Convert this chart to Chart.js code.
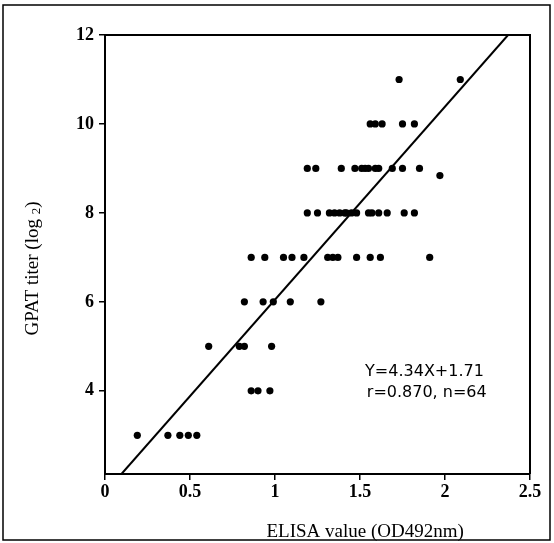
<!DOCTYPE html>
<html><head><meta charset="utf-8">
<script src="https://cdn.jsdelivr.net/npm/chart.js@4"></script>
<style>html,body{margin:0;padding:0;background:#fff}#wrap{width:554px;height:543px}</style>
</head><body><div id="wrap"><canvas id="c" width="554" height="543"></canvas></div>
<script>
// ELISA value (x) and GPAT titer log2 (y) for each sample
const elisa = [
  1.73, 2.09,
  1.56, 1.59, 1.63, 1.75, 1.82,
  1.19, 1.24, 1.39, 1.47, 1.51, 1.53, 1.55, 1.59, 1.61, 1.69, 1.75, 1.85, 1.97,
  1.19, 1.25, 1.32, 1.35, 1.38, 1.41, 1.42, 1.45, 1.48, 1.55, 1.57, 1.61, 1.66, 1.76, 1.82,
  0.86, 0.94, 1.05, 1.10, 1.17, 1.31, 1.34, 1.37, 1.48, 1.56, 1.62, 1.91,
  0.82, 0.93, 0.99, 1.09, 1.27,
  0.61, 0.79, 0.82, 0.98,
  0.86, 0.90, 0.97,
  0.19, 0.37, 0.44, 0.49, 0.54
];
const gpat = [
  11, 11,
  10, 10, 10, 10, 10,
  9, 9, 9, 9, 9, 9, 9, 9, 9, 9, 9, 9, 8.84,
  8, 8, 8, 8, 8, 8, 8, 8, 8, 8, 8, 8, 8, 8, 8,
  7, 7, 7, 7, 7, 7, 7, 7, 7, 7, 7, 7,
  6, 6, 6, 6, 6,
  5, 5, 5, 5,
  4, 4, 4,
  3, 3, 3, 3, 3
];
const xTicks = [0, 0.5, 1, 1.5, 2, 2.5];
const yTicks = [4, 6, 8, 10, 12];
const xRange = [0, 2.5];
const yRange = [2.13, 12];
const slope = 4.34, intercept = 1.71;
const eqLines = ["Y=4.34X+1.71", "r=0.870, n=64"];
const xTitle = "ELISA value (OD492nm)";
const yTitleParts = ["GPAT titer (log ", "2", ")"];

const points = elisa.map((x, i) => ({x: x, y: gpat[i]}));
const fitLine = [
  {x: (yRange[0] - intercept) / slope, y: yRange[0]},
  {x: (yRange[1] - intercept) / slope, y: yRange[1]}
];

const serif = "'Liberation Serif', 'Times New Roman', serif";

const decor = {
  id: 'decor',
  beforeDraw(chart) {
    const c = chart.ctx;
    c.save(); c.fillStyle = '#fff'; c.fillRect(0, 0, chart.width, chart.height); c.restore();
  },
  afterDraw(chart) {
    const c = chart.ctx, a = chart.chartArea;
    const xs = chart.scales.x, ys = chart.scales.y;
    c.save();
    c.strokeStyle = '#000';
    c.lineWidth = 2;
    c.beginPath();
    c.moveTo(a.left, a.top); c.lineTo(a.right, a.top); c.lineTo(a.right, a.bottom);
    c.stroke();
    c.lineWidth = 1.5;
    c.strokeRect(3, 5, 547, 535);
    c.fillStyle = '#000';
    // x title
    c.font = "19px " + serif;
    c.textAlign = 'center'; c.textBaseline = 'middle';
    c.fillText(xTitle, xs.getPixelForValue(1.53), chart.height - 11);
    // y title with small "2"
    const big = "19px " + serif, small = "13px " + serif;
    c.font = big; const w1 = c.measureText(yTitleParts[0]).width, w3 = c.measureText(yTitleParts[2]).width;
    c.font = small; const w2 = c.measureText(yTitleParts[1]).width;
    const total = w1 + w2 + w3;
    c.save();
    c.translate(32, (a.top + a.bottom) / 2 + 14);
    c.rotate(-Math.PI / 2);
    c.textAlign = 'left'; c.textBaseline = 'alphabetic';
    let px = -total / 2;
    c.font = big; c.fillText(yTitleParts[0], px, 6); px += w1;
    c.font = small; c.fillText(yTitleParts[1], px, 8); px += w2;
    c.font = big; c.fillText(yTitleParts[2], px, 6);
    c.restore();
    // regression annotation
    c.font = "16px 'DejaVu Sans', sans-serif";
    c.textAlign = 'left'; c.textBaseline = 'middle';
    c.fillText(eqLines[0], xs.getPixelForValue(1.53), ys.getPixelForValue(4.43));
    c.fillText(eqLines[1], xs.getPixelForValue(1.54), ys.getPixelForValue(3.96));
    c.restore();
  }
};

new Chart(document.getElementById('c'), {
  type: 'scatter',
  data: {
    datasets: [
      {data: points, pointRadius: 3.6, pointHoverRadius: 3.6, backgroundColor: '#000', borderWidth: 0},
      {type: 'line', data: fitLine, borderColor: '#000', borderWidth: 2, pointRadius: 0, fill: false, tension: 0}
    ]
  },
  options: {
    responsive: false,
    animation: false,
    devicePixelRatio: 1,
    layout: {padding: {left: 0, right: 24, top: 35, bottom: 0}},
    plugins: {legend: {display: false}, tooltip: {enabled: false}},
    scales: {
      x: {
        type: 'linear', min: xRange[0], max: xRange[1],
        afterBuildTicks: s => { s.ticks = xTicks.map(v => ({value: v})); },
        afterFit: s => { s.height = 69; },
        ticks: {color: '#000', padding: 2, maxRotation: 0, autoSkip: false,
                font: {family: serif, size: 18, weight: 'bold'},
                callback: v => String(v)},
        grid: {display: true, drawOnChartArea: false, drawTicks: true, tickLength: 6, color: '#000', lineWidth: 1.5},
        border: {display: true, color: '#000', width: 2}
      },
      y: {
        type: 'linear', min: yRange[0], max: yRange[1],
        afterBuildTicks: s => { s.ticks = yTicks.map(v => ({value: v})); },
        afterFit: s => { s.width = 105; },
        ticks: {color: '#000', padding: 5, autoSkip: false,
                font: {family: serif, size: 18, weight: 'bold'},
                callback: v => String(v)},
        grid: {display: true, drawOnChartArea: false, drawTicks: true, tickLength: 6, color: '#000', lineWidth: 1.5},
        border: {display: true, color: '#000', width: 2}
      }
    }
  },
  plugins: [decor]
});
</script></body></html>
